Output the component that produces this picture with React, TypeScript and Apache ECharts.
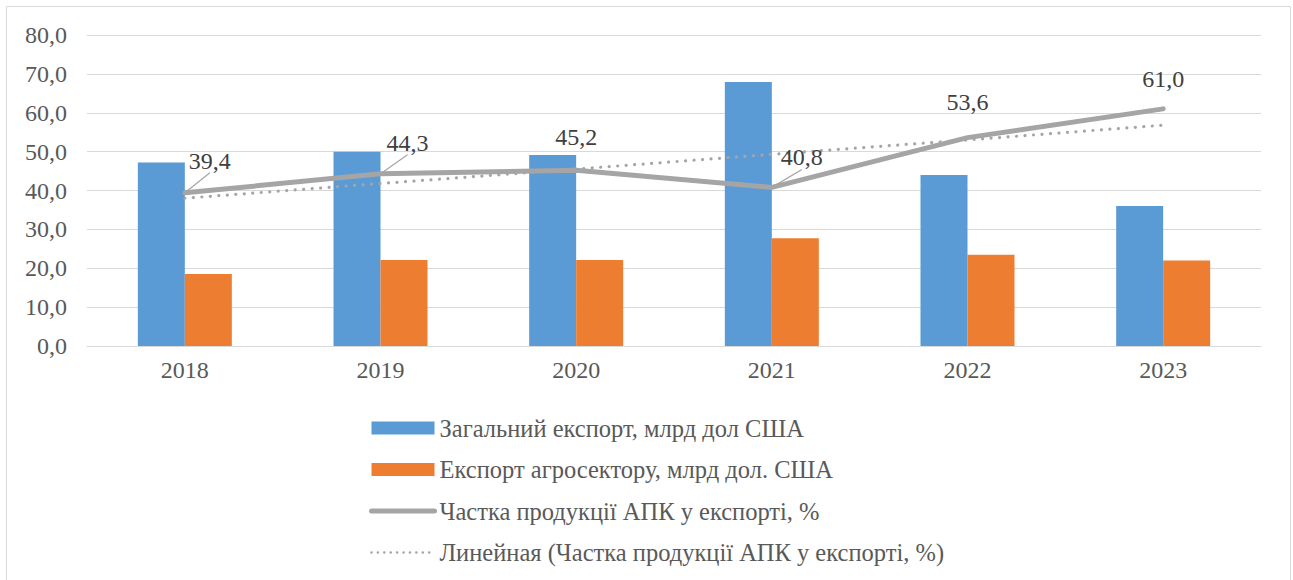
import React, { useEffect, useRef } from "react";
import * as echarts from "echarts";

const categories = ["2018", "2019", "2020", "2021", "2022", "2023"];
const totalExport = [47.2, 50.0, 49.1, 67.9, 44.0, 36.0];
const agroExport = [18.5, 22.1, 22.1, 27.7, 23.5, 22.0];
const agroShare = [39.4, 44.3, 45.2, 40.8, 53.6, 61.0];
const shareTrend = [38.0, 41.8, 45.5, 49.3, 53.0, 56.8];
const labelOffsets: [number, number][] = [
  [25, -32],
  [27, -31],
  [0, -33],
  [30, -30],
  [0, -36],
  [0, -30],
];
const leaderShown = [true, true, false, true, false, false];

const seriesNames = [
  "Загальний експорт, млрд дол США",
  "Експорт агросектору, млрд дол. США",
  "Частка продукції АПК у експорті, %",
  "Линейная (Частка продукції АПК у експорті, %)",
];

const FONT = "Liberation Serif";
const fmt = (v: number) => v.toFixed(1).replace(".", ",");

export default function App() {
  const ref = useRef<HTMLDivElement>(null);
  useEffect(() => {
    if (!ref.current) return;
    const chart = echarts.init(ref.current, null, { renderer: "svg" });
    chart.setOption({
      animation: false,
      backgroundColor: "#ffffff",
      textStyle: { fontFamily: FONT },
      graphic: [
        {
          type: "rect",
          shape: { x: 6.5, y: 6.5, width: 1284, height: 600 },
          style: { fill: "none", stroke: "#d9d9d9", lineWidth: 1 },
          silent: true,
        },
      ],
      grid: { left: 87, right: 32, top: 35, height: 311, containLabel: false },
      xAxis: {
        type: "category",
        data: categories,
        axisLine: { lineStyle: { color: "#d9d9d9", width: 1 } },
        axisTick: { show: false },
        axisLabel: { color: "#595959", fontSize: 24, fontFamily: FONT, margin: 12 },
      },
      yAxis: {
        type: "value",
        min: 0,
        max: 80,
        interval: 10,
        axisLine: { show: false },
        axisTick: { show: false },
        splitLine: { lineStyle: { color: "#d9d9d9", width: 1 } },
        axisLabel: {
          color: "#595959",
          fontSize: 24,
          fontFamily: FONT,
          margin: 20,
          formatter: (v: number) => fmt(v),
        },
      },
      legend: {
        orient: "vertical",
        left: 369,
        top: 415,
        padding: 0,
        itemWidth: 63,
        itemHeight: 13,
        itemGap: 15.5,
        textStyle: { color: "#595959", fontSize: 24.5, fontFamily: FONT, lineHeight: 26 },
        data: [
          { name: seriesNames[0], icon: "rect" },
          { name: seriesNames[1], icon: "rect" },
          {
            name: seriesNames[2],
            itemStyle: { opacity: 0 },
            lineStyle: { width: 5, cap: "round", color: "#a5a5a5" },
          },
          {
            name: seriesNames[3],
            itemStyle: { opacity: 0 },
            lineStyle: { width: 2.6, type: [0.01, 6.4], cap: "round", color: "#a5a5a5" },
          },
        ],
      },
      series: [
        {
          name: seriesNames[0],
          type: "bar",
          data: totalExport,
          barWidth: 47,
          barGap: "0%",
          itemStyle: { color: "#5b9bd5" },
        },
        {
          name: seriesNames[1],
          type: "bar",
          data: agroExport,
          barWidth: 47,
          barGap: "0%",
          itemStyle: { color: "#ed7d31" },
        },
        {
          name: seriesNames[3],
          type: "line",
          data: shareTrend,
          symbol: "none",
          z: 3,
          lineStyle: { color: "#a5a5a5", width: 3.2, type: [0.01, 8.5], cap: "round" },
          itemStyle: { color: "#a5a5a5" },
        },
        {
          name: seriesNames[2],
          type: "line",
          z: 4,
          data: agroShare.map((v, i) => ({
            value: v,
            label: { offset: labelOffsets[i] },
            labelLine: { show: leaderShown[i] },
          })),
          symbol: "circle",
          symbolSize: 1,
          showSymbol: true,
          itemStyle: { color: "#a5a5a5" },
          lineStyle: { color: "#a5a5a5", width: 5, cap: "round", join: "round" },
          label: {
            show: true,
            position: "inside",
            color: "#404040",
            fontSize: 24,
            fontFamily: FONT,
            formatter: (p: any) => fmt(p.value),
          },
          labelLine: { show: false, lineStyle: { color: "#a5a5a5", width: 1.2 } },
        },
      ],
    });
    return () => chart.dispose();
  }, []);
  return (
    <div
      ref={ref}
      style={{ position: "absolute", left: 0, top: 0, width: 1293, height: 580 }}
    />
  );
}
